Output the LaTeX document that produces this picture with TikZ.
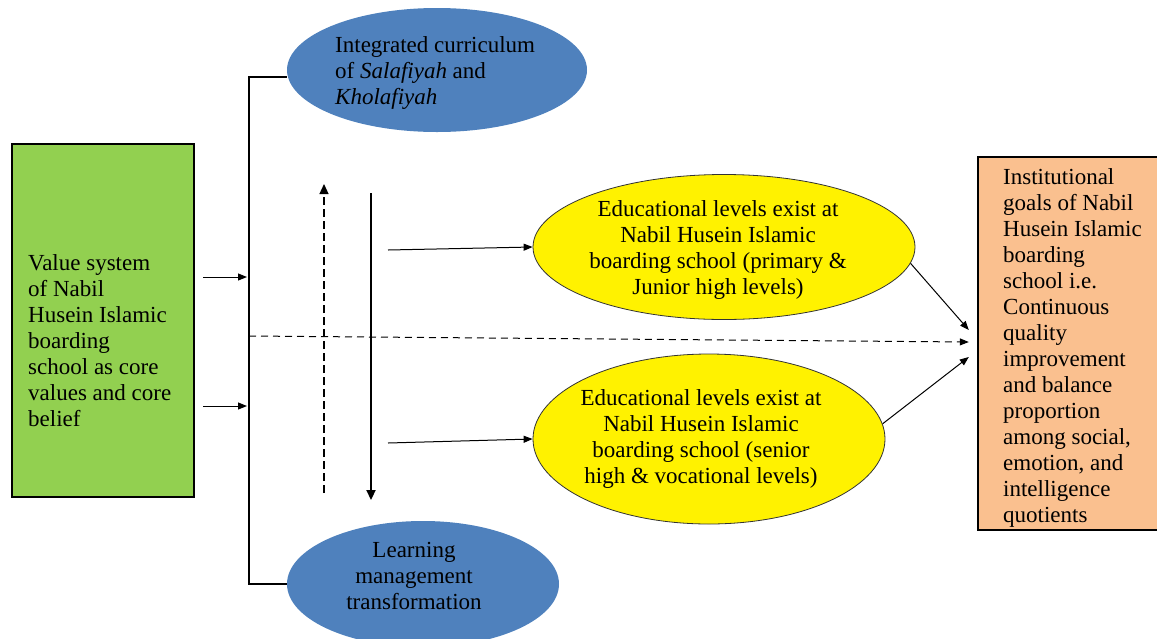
\documentclass[tikz,border=0pt]{standalone}
\usepackage{fontspec}
\setmainfont{Liberation Serif}
\usetikzlibrary{shapes.geometric,arrows.meta}

\definecolor{valgreen}{RGB}{146,208,80}
\definecolor{goalorange}{RGB}{250,192,143}
\definecolor{ellblue}{RGB}{79,129,189}

\tikzset{
  valuebox/.style={draw, line width=2.4pt, fill=valgreen, inner sep=0pt},
  goalbox/.style={draw, line width=2.4pt, fill=goalorange, inner sep=0pt},
  blueell/.style={ellipse, fill=ellblue, inner sep=0pt},
  yellowell/.style={ellipse, draw=black!80, line width=0.8pt, fill=yellow, inner sep=0pt},
  txt/.style={font=\fontsize{23}{26}\selectfont, inner sep=0pt},
  arr/.style={-{Triangle[length=9pt,width=7pt]}, line width=1pt},
  bigarr/.style={-{Triangle[length=10pt,width=9pt]}, line width=2.2pt},
  bracket/.style={line width=2.6pt},
}

\begin{document}
\begin{tikzpicture}[x=1pt,y=-1pt]
        \useasboundingbox (0,0) rectangle (1157,638);
        % boxes and ellipses
        \node[valuebox, minimum width=182pt, minimum height=353pt] (val) at (103,320.5) {};
        \node[txt, align=left, anchor=west] (valtext) at (28,340.5) {Value system\\of Nabil\\Husein Islamic\\boarding\\school as core\\values and core\\belief};
        \node[goalbox, minimum width=200pt, minimum height=373pt] (goal) at (1078,343.5) {};
        \node[txt, align=left, anchor=west] (goaltext) at (1003,347.5) {Institutional\\goals of Nabil\\Husein Islamic\\boarding\\school i.e.\\Continuous\\quality\\improvement\\and balance\\proportion\\among social,\\emotion, and\\intelligence\\quotients};
        \node[blueell, minimum width=300pt, minimum height=124pt] (cur) at (437,70) {};
        \node[txt, align=left, anchor=west] (curtext) at (335,73) {Integrated curriculum\\of \textit{Salafiyah} and\\\textit{Kholafiyah}};
        \node[blueell, minimum width=272pt, minimum height=126pt] (lmt) at (423,584) {};
        \node[txt, align=center] (lmttext) at (414,576) {Learning\\management\\transformation};
        \node[yellowell, minimum width=382pt, minimum height=145pt] (edu1) at (724,247) {};
        \node[txt, align=center] (edu1text) at (718,250) {Educational levels exist at\\Nabil Husein Islamic\\boarding school (primary \&\\Junior high levels)};
        \node[yellowell, minimum width=352pt, minimum height=170pt] (edu2) at (709,439) {};
        \node[txt, align=center] (edu2text) at (701,439) {Educational levels exist at\\Nabil Husein Islamic\\boarding school (senior\\high \& vocational levels)};
        % bracket
        \coordinate (brtop) at (249,77);
        \coordinate (brbot) at (249,584);
        \draw[bracket] (cur.west |- brtop) -- (brtop) -- (brbot) -- (lmt.west);
        \foreach \y in {277,406}
        \draw[arr, shorten >=2pt] ([xshift=8pt]val.east |- 0,\y) -- (brtop |- 0,\y);
        % up and down arrows
        \coordinate (upbot) at (324,493);
        \coordinate (uptop) at (324,184);
        \coordinate (dntop) at (371,193);
        \coordinate (dnbot) at (371,500);
        \draw[bigarr, line width=1.2pt, dash pattern=on 8pt off 4pt] (upbot) -- (uptop);
        \draw[bigarr] (dntop) -- (dnbot);
        % to the levels
        \coordinate (e1start) at (388,250);
        \coordinate (e2start) at (388,443);
        \draw[arr] (e1start) -- (edu1.west);
        \draw[arr] (e2start) -- (edu2.west);
        % to the goals
        \draw[arr, dash pattern=on 7pt off 5pt] (brtop |- 0,336) -- ([xshift=-8pt,yshift=1.5pt]goal.west);
        \draw[arr] (edu1.-5) -- ([xshift=-8pt,yshift=13.5pt]goal.west);
        \draw[arr] (edu2.5) -- ([xshift=-8pt,yshift=-13.5pt]goal.west);
\end{tikzpicture}
\end{document}
